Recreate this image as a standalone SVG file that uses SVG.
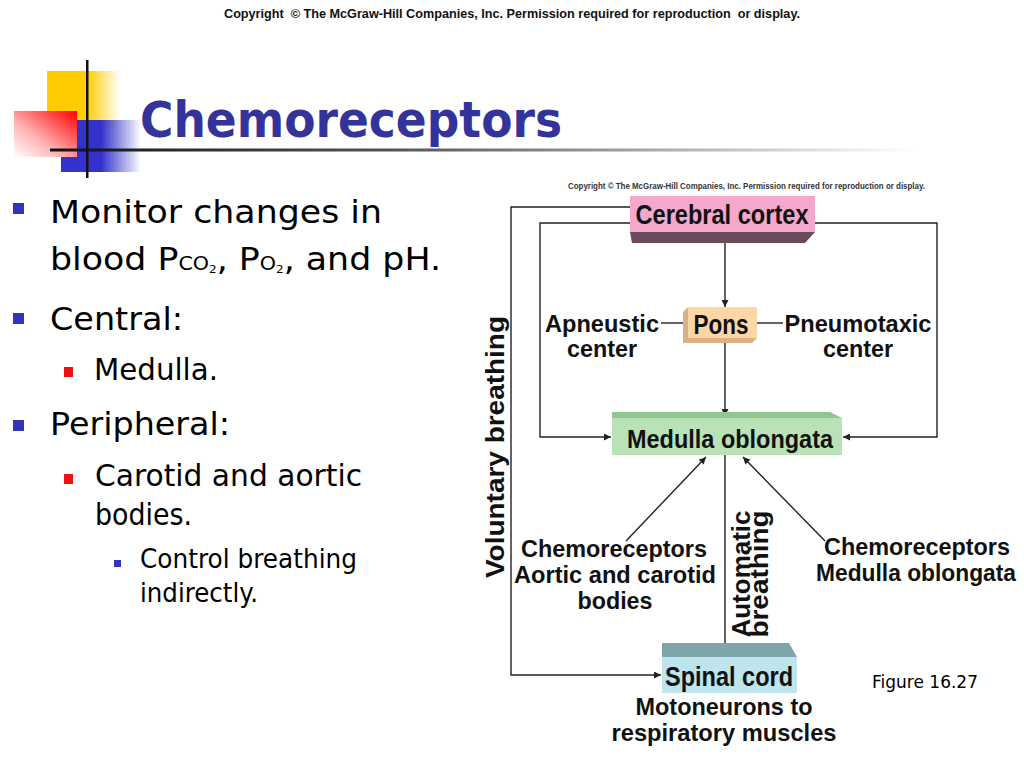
<svg xmlns="http://www.w3.org/2000/svg" width="1024" height="768" viewBox="0 0 1024 768">
<defs>
<style>
.h{font-family:"Liberation Sans",Arial,sans-serif;font-weight:bold;fill:#111}
.t{font-family:"DejaVu Sans",Verdana,sans-serif;fill:#000}
.ln{stroke:#222;stroke-width:1.4;fill:none}
.b1{fill:#3333bb}
.b2{fill:#ee1111}
</style>
<marker id="ah" viewBox="0 0 10 10" refX="10" refY="5" markerWidth="9" markerHeight="7" markerUnits="userSpaceOnUse" orient="auto"><path d="M0,0 L10,5 L0,10 z" fill="#222"/></marker>
<linearGradient id="gy" x1="0" y1="0" x2="1" y2="0"><stop offset="0" stop-color="#ffcc00"/><stop offset="0.55" stop-color="#ffcc00"/><stop offset="1" stop-color="#ffcc00" stop-opacity="0"/></linearGradient>
<linearGradient id="gb" x1="0" y1="0" x2="1" y2="0"><stop offset="0" stop-color="#3333cc"/><stop offset="0.5" stop-color="#3333cc"/><stop offset="1" stop-color="#3333cc" stop-opacity="0"/></linearGradient>
<linearGradient id="gr" x1="1" y1="0" x2="0" y2="1"><stop offset="0" stop-color="#ff0000"/><stop offset="0.6" stop-color="#ffb0b0"/><stop offset="1" stop-color="#ffffff"/></linearGradient>
<linearGradient id="gl" x1="0" y1="0" x2="1" y2="0"><stop offset="0" stop-color="#111"/><stop offset="0.4" stop-color="#555"/><stop offset="1" stop-color="#fff"/></linearGradient>
</defs>
<rect width="1024" height="768" fill="#fff"/>

<text class="h" x="224" y="18" font-size="12.5" textLength="576" lengthAdjust="spacingAndGlyphs" style="white-space:pre">Copyright  © The McGraw-Hill Companies, Inc. Permission required for reproduction  or display.</text>

<g id="decor">
<rect x="47" y="71" width="73" height="56" fill="url(#gy)"/>
<rect x="61" y="120" width="80" height="52" fill="url(#gb)"/>
<rect x="14" y="111" width="63" height="46" fill="url(#gr)"/>
<rect x="50" y="148.5" width="865" height="3" fill="url(#gl)"/>
<rect x="86" y="60" width="2.5" height="118" fill="#111"/>
</g>

<text class="t" x="140" y="137" font-size="50" font-weight="bold" style="fill:#333399" textLength="422" lengthAdjust="spacingAndGlyphs">Chemoreceptors</text>

<g id="bullets">
<rect class="b1" x="13" y="203" width="11" height="11"/>
<text class="t" x="50" y="223" font-size="32" textLength="332" lengthAdjust="spacingAndGlyphs">Monitor changes in</text>
<text class="t" x="50" y="270" font-size="32" textLength="391" lengthAdjust="spacingAndGlyphs">blood P<tspan font-size="19">CO</tspan><tspan font-size="11" dy="3">2</tspan><tspan dy="-3">, P</tspan><tspan font-size="19">O</tspan><tspan font-size="11" dy="3">2</tspan><tspan dy="-3">, and pH.</tspan></text>
<rect class="b1" x="13" y="313" width="11" height="11"/>
<text class="t" x="50" y="330" font-size="32" textLength="133" lengthAdjust="spacingAndGlyphs">Central:</text>
<rect class="b2" x="64" y="367" width="9" height="10"/>
<text class="t" x="94" y="380" font-size="30" textLength="124" lengthAdjust="spacingAndGlyphs">Medulla.</text>
<rect class="b1" x="13" y="420" width="11" height="11"/>
<text class="t" x="50" y="435" font-size="32" textLength="180" lengthAdjust="spacingAndGlyphs">Peripheral:</text>
<rect class="b2" x="64" y="474" width="9" height="10"/>
<text class="t" x="95" y="486" font-size="30" textLength="267" lengthAdjust="spacingAndGlyphs">Carotid and aortic</text>
<text class="t" x="95" y="525" font-size="30" textLength="97" lengthAdjust="spacingAndGlyphs">bodies.</text>
<rect class="b1" x="114" y="560" width="7" height="7"/>
<text class="t" x="140" y="568" font-size="26" textLength="217" lengthAdjust="spacingAndGlyphs">Control breathing</text>
<text class="t" x="140" y="602" font-size="26" textLength="118" lengthAdjust="spacingAndGlyphs">indirectly.</text>
</g>

<text class="h" x="568" y="189" font-size="9" style="fill:#333" textLength="357" lengthAdjust="spacingAndGlyphs">Copyright © The McGraw-Hill Companies, Inc. Permission required for reproduction or display.</text>

<g id="connectors">
<polyline class="ln" points="630,207 511,207 511,675 661,675" marker-end="url(#ah)"/>
<polyline class="ln" points="630,223 540,223 540,437 611,437" marker-end="url(#ah)"/>
<polyline class="ln" points="815,223 937,223 937,437 843,437" marker-end="url(#ah)"/>
<line class="ln" x1="725" y1="243" x2="725" y2="307" marker-end="url(#ah)"/>
<line class="ln" x1="725" y1="343" x2="725" y2="416" marker-end="url(#ah)"/>
<line class="ln" x1="661" y1="323" x2="683" y2="323"/>
<line class="ln" x1="757" y1="323" x2="783" y2="323"/>
<line class="ln" x1="725" y1="455" x2="725" y2="655" marker-end="url(#ah)"/>
<line class="ln" x1="626" y1="541" x2="706" y2="457" marker-end="url(#ah)"/>
<line class="ln" x1="825" y1="541" x2="743" y2="457" marker-end="url(#ah)"/>
</g>

<g id="cortex">
<polygon points="630,232 815,232 805,243 632,243" fill="#6b4a5b"/>
<rect x="630" y="196" width="185" height="36" fill="#f6a8cc"/>
<text class="h" x="722" y="224" font-size="27" text-anchor="middle" textLength="173" lengthAdjust="spacingAndGlyphs">Cerebral cortex</text>
</g>

<g id="pons">
<polygon points="688,307 683,312 683,343 752,343 757,338 688,338" fill="#d9b184"/>
<rect x="688" y="307" width="69" height="31" fill="#fcd7a6"/>
<text class="h" x="721" y="334" font-size="27" text-anchor="middle" textLength="55" lengthAdjust="spacingAndGlyphs">Pons</text>
</g>

<g id="apneustic">
<text class="h" x="602" y="332" font-size="24" text-anchor="middle" textLength="114" lengthAdjust="spacingAndGlyphs">Apneustic</text>
<text class="h" x="602" y="357" font-size="24" text-anchor="middle" textLength="70" lengthAdjust="spacingAndGlyphs">center</text>
</g>

<g id="pneumotaxic">
<text class="h" x="858" y="332" font-size="24" text-anchor="middle" textLength="147" lengthAdjust="spacingAndGlyphs">Pneumotaxic</text>
<text class="h" x="858" y="357" font-size="24" text-anchor="middle" textLength="70" lengthAdjust="spacingAndGlyphs">center</text>
</g>

<g id="medulla">
<polygon points="612,412 830,412 842,418 612,418" fill="#8fc791"/>
<rect x="612" y="418" width="230" height="37" fill="#b9e2b6"/>
<text class="h" x="730" y="448" font-size="25" text-anchor="middle" textLength="206" lengthAdjust="spacingAndGlyphs">Medulla oblongata</text>
</g>

<g id="chemo-peripheral">
<text class="h" x="614" y="557" font-size="24" text-anchor="middle" textLength="186" lengthAdjust="spacingAndGlyphs">Chemoreceptors</text>
<text class="h" x="615" y="583" font-size="24" text-anchor="middle" textLength="202" lengthAdjust="spacingAndGlyphs">Aortic and carotid</text>
<text class="h" x="615" y="609" font-size="24" text-anchor="middle" textLength="75" lengthAdjust="spacingAndGlyphs">bodies</text>
</g>

<g id="chemo-central">
<text class="h" x="917" y="555" font-size="24" text-anchor="middle" textLength="186" lengthAdjust="spacingAndGlyphs">Chemoreceptors</text>
<text class="h" x="816" y="581" font-size="23" textLength="200" lengthAdjust="spacingAndGlyphs">Medulla oblongata</text>
</g>

<g id="labels-breathing">
<text class="h" transform="translate(504,447) rotate(-90)" font-size="25" text-anchor="middle" textLength="262" lengthAdjust="spacingAndGlyphs">Voluntary breathing</text>
<text class="h" transform="translate(750,574) rotate(-90)" font-size="25" text-anchor="middle" textLength="127" lengthAdjust="spacingAndGlyphs">Automatic</text>
<text class="h" transform="translate(768,574) rotate(-90)" font-size="25" text-anchor="middle" textLength="127" lengthAdjust="spacingAndGlyphs">breathing</text>
</g>

<g id="spinal">
<polygon points="662,643 789,643 797,657 662,657" fill="#7fa4a9"/>
<rect x="662" y="657" width="135" height="36" fill="#bee4ee"/>
<text class="h" x="729" y="686" font-size="27" text-anchor="middle" textLength="128" lengthAdjust="spacingAndGlyphs">Spinal cord</text>
<text class="h" x="724" y="715" font-size="24" text-anchor="middle" textLength="177" lengthAdjust="spacingAndGlyphs">Motoneurons to</text>
<text class="h" x="724" y="741" font-size="24" text-anchor="middle" textLength="225" lengthAdjust="spacingAndGlyphs">respiratory muscles</text>
</g>

<text class="t" x="872" y="688" font-size="17" textLength="106" lengthAdjust="spacingAndGlyphs">Figure 16.27</text>
</svg>
